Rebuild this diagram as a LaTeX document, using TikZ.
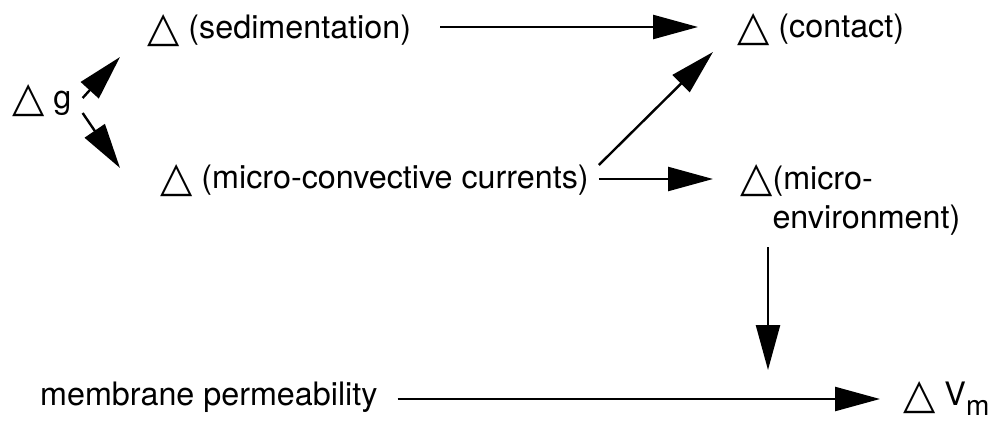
\documentclass[tikz,border=0pt]{standalone}
\usepackage{fontspec}
\setmainfont{TeX Gyre Heros}
\newfontfamily\symfont{DejaVu Sans}
\usetikzlibrary{arrows.meta}
\newcommand{\tri}{\raisebox{-3pt}{\scalebox{1.3}{\symfont △}}}
\newcommand{\sub}[1]{\raisebox{-10pt}{\fontsize{28}{30}\selectfont #1}}

\begin{document}
\begin{tikzpicture}
                \tikzset{x=1pt, y=-1pt}
                \tikzstyle{lbl}=[anchor=base west, inner sep=0pt, align=left, font=\fontsize{32.3}{39}\selectfont]
                \tikzstyle{arr}=[->, line width=2.4pt, >={Triangle[length=45pt, width=24pt]}]

                \useasboundingbox (0,0) rectangle (990,422);

                % gravity change
                \draw (12, 109)     node[lbl]   (dg)    {\tri\ g};

                % first consequences
                \draw (147, 39)     node[lbl]   (sed)   {\tri\ (sedimentation)};
                \draw (160, 189)    node[lbl]   (mcc)   {\tri\ (micro-convective currents)};

                % second consequences
                \draw (737, 38)     node[lbl]   (cont)  {\tri\ (contact)};
                \draw (740, 228)    node[lbl]   (menv)  {\tri(micro-\\\phantom{\tri}environment)};

                % membrane
                \draw (40, 405)     node[lbl]   (perm)  {membrane permeability};
                \draw (903, 405)    node[lbl]   (vm)    {\tri\ V\sub{m}};

                % arrows
                \draw [arr]         ([shift={(11,-11)}]dg.base east) -- ([shift={(-27,18)}]sed.base west);
                \draw [arr]         ([shift={(11,4)}]dg.base east) -- ([shift={(-40,-21)}]mcc.base west);
                \draw [arr]         ([shift={(29,-12)}]sed.base east) -- ([shift={(-39,-11)}]cont.base west);
                \draw [arr]         ([shift={(10,-24)}]mcc.base east) -- ([shift={(-24,14)}]cont.base west);
                \draw [arr]         ([shift={(10,-10)}]mcc.base east) -- ([shift={(-27,-49)}]menv.base west);
                \draw [arr]         ([shift={(28,19)}]menv.base west) -- ++(0,123);
                \draw [arr]         ([shift={(20,-6)}]perm.base east) -- ([shift={(-23,-6)}]vm.base west);
\end{tikzpicture}
\end{document}
